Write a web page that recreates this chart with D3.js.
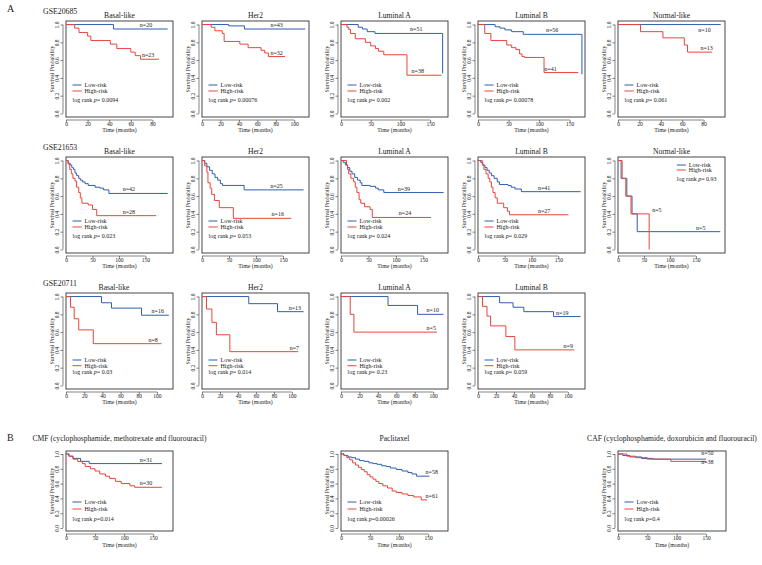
<!DOCTYPE html>
<html><head><meta charset="utf-8">
<script src="https://cdn.jsdelivr.net/npm/d3@7"></script>
<style>
body{margin:0;background:#fff}
svg{display:block}
text{font-family:"Liberation Serif","Times New Roman",serif;fill:#1a1a1a}
</style>
</head><body>
<svg id="chart" width="762" height="565"></svg>
<script>
// ---------------- DATA ----------------
const subtypes = ["Basal-like","Her2","Luminal A","Luminal B","Normal-like"];
const datasets = ["GSE20685","GSE21653","GSE20711"];
const regimens = ["CMF (cyclophosphamide, methotrexate and fluorouracil)","Paclitaxel","CAF (cyclophosphamide, doxorubicin and fluorouracil)"];
const groups = ["Low-risk","High-risk"];
const yTicks = [0,0.2,0.4,0.6,0.8,1.0];
const xTicks0to80 = [0,20,40,60,80];
const xTicks0to100 = [0,20,40,60,80,100];
const xTicks0to150 = [0,50,100,150];

// step curves: [time (months), survival after event]
const gse20685BasalLow  = [[0,1],[44,0.95],[94,0.95]];
const gse20685BasalHigh = [[0,1],[8,0.96],[12,0.91],[20,0.87],[23,0.82],[41,0.78],[47,0.73],[60,0.69],[64,0.65],[69,0.61],[86,0.61]];
const gse20685Her2Low   = [[0,1],[29,0.985],[46,0.95],[112,0.95]];
const gse20685Her2High  = [[0,1],[10,0.97],[14,0.93],[22,0.9],[24,0.81],[41,0.78],[50,0.74],[64,0.71],[68,0.68],[72,0.64],[90,0.64]];
const gse20685LumALow   = [[0,1],[29,0.97],[36,0.95],[44,0.92],[57,0.9],[171,0.45]];
const gse20685LumAHigh  = [[0,1],[10,0.97],[13,0.945],[16,0.9],[24,0.84],[41,0.8],[50,0.76],[58,0.73],[63,0.7],[72,0.66],[111,0.43],[169,0.43]];
const gse20685LumBLow   = [[0,1],[28,0.975],[36,0.96],[44,0.94],[55,0.92],[74,0.89],[170,0.44]];
const gse20685LumBHigh  = [[0,1],[11,0.9],[21,0.82],[47,0.77],[55,0.74],[62,0.72],[68,0.67],[72,0.64],[76,0.63],[108,0.46],[164,0.46]];
const gse20685NormLow   = [[0,1],[96,1]];
const gse20685NormHigh  = [[0,1],[21,0.92],[42,0.85],[62,0.77],[65,0.69],[88,0.69]];

const gse21653BasalLow  = [[0,1],[4,0.97],[8,0.95],[11,0.92],[14,0.9],[17,0.86],[20,0.83],[24,0.8],[27,0.78],[31,0.76],[36,0.74],[42,0.72],[55,0.7],[64,0.69],[71,0.67],[81,0.63],[192,0.63]];
const gse21653BasalHigh = [[0,1],[4,0.96],[7,0.9],[10,0.85],[13,0.8],[17,0.77],[20,0.7],[24,0.64],[27,0.58],[30,0.52],[42,0.5],[50,0.45],[58,0.38],[170,0.38]];
const gse21653Her2Low   = [[0,1],[5,0.97],[9,0.93],[14,0.89],[19,0.85],[24,0.81],[29,0.78],[34,0.74],[38,0.72],[78,0.67],[188,0.67]];
const gse21653Her2High  = [[0,1],[5,0.94],[9,0.87],[11,0.75],[15,0.69],[18,0.62],[23,0.55],[32,0.47],[58,0.35],[165,0.35]];
const gse21653LumALow   = [[0,1],[4,0.98],[8,0.95],[12,0.92],[16,0.88],[20,0.85],[25,0.81],[30,0.78],[35,0.75],[38,0.72],[53,0.71],[63,0.69],[68,0.67],[78,0.64],[187,0.64]];
const gse21653LumAHigh  = [[0,1],[10,0.95],[12,0.9],[14,0.85],[18,0.8],[23,0.76],[26,0.7],[29,0.64],[33,0.56],[36,0.52],[43,0.48],[53,0.45],[57,0.36],[164,0.36]];
const gse21653LumBLow   = [[0,1],[5,0.98],[9,0.95],[13,0.92],[17,0.89],[21,0.86],[25,0.83],[30,0.8],[36,0.76],[40,0.73],[56,0.72],[62,0.7],[69,0.68],[81,0.65],[192,0.65]];
const gse21653LumBHigh  = [[0,1],[8,0.95],[11,0.9],[15,0.85],[19,0.8],[22,0.76],[25,0.7],[28,0.64],[32,0.58],[36,0.52],[48,0.47],[55,0.43],[59,0.39],[169,0.39]];
const gse21653NormLow   = [[0,1],[6,0.8],[17,0.6],[27,0.4],[37,0.2],[197,0.2]];
const gse21653NormHigh  = [[0,1],[8,0.8],[15,0.6],[25,0.4],[60,0.0]];

const gse20711BasalLow  = [[0,1],[39,0.93],[50,0.87],[83,0.79],[113,0.79]];
const gse20711BasalHigh = [[0,1],[5,0.88],[9,0.75],[14,0.625],[30,0.47],[105,0.47]];
const gse20711Her2Low   = [[0,1],[52,0.92],[84,0.83],[113,0.83]];
const gse20711Her2High  = [[0,1],[5,0.86],[11,0.71],[16,0.57],[31,0.38],[107,0.38]];
const gse20711LumALow   = [[0,1],[51,0.9],[83,0.8],[111,0.8]];
const gse20711LumAHigh  = [[0,1],[10,0.8],[14,0.6],[104,0.6]];
const gse20711LumBLow   = [[0,1],[24,0.93],[39,0.88],[51,0.83],[84,0.775],[114,0.775]];
const gse20711LumBHigh  = [[0,1],[5,0.89],[10,0.78],[14,0.67],[31,0.55],[41,0.4],[107,0.4]];

const cmfLow   = [[0,1],[5,0.97],[12,0.94],[25,0.9],[40,0.87],[165,0.87]];
const cmfHigh  = [[0,1],[5,0.97],[12,0.93],[20,0.9],[28,0.87],[33,0.83],[42,0.8],[50,0.77],[58,0.73],[68,0.7],[75,0.67],[85,0.63],[95,0.6],[110,0.57],[118,0.55],[165,0.55]];
const pacLow   = [[0,1],[5,0.98],[12,0.96],[18,0.95],[25,0.93],[32,0.91],[40,0.9],[48,0.88],[55,0.87],[62,0.86],[70,0.84],[78,0.83],[85,0.81],[95,0.79],[105,0.77],[115,0.75],[122,0.73],[130,0.7],[152,0.7]];
const pacHigh  = [[0,1],[5,0.98],[10,0.95],[15,0.92],[20,0.88],[25,0.85],[30,0.82],[35,0.79],[40,0.76],[45,0.72],[50,0.69],[55,0.66],[60,0.63],[65,0.6],[72,0.57],[80,0.54],[88,0.5],[95,0.48],[105,0.46],[115,0.44],[125,0.42],[138,0.38],[148,0.38]];
const cafLow   = [[0,1],[8,0.98],[20,0.96],[40,0.94],[60,0.93],[150,0.93]];
const cafHigh  = [[0,1],[15,0.97],[30,0.95],[50,0.93],[90,0.9],[150,0.9]];

const gse20685N = [["n=20","n=23"],["n=43","n=32"],["n=51","n=38"],["n=56","n=41"],["n=10","n=13"]];
const gse21653N = [["n=42","n=28"],["n=25","n=16"],["n=39","n=24"],["n=41","n=27"],["n=5","n=5"]];
const gse20711N = [["n=16","n=8"],["n=13","n=7"],["n=10","n=5"],["n=19","n=9"]];
const treatN    = [["n=31","n=30"],["n=58","n=61"],["n=50","n=38"]];

const gse20685P = ["0.0094","0.00076","0.002","0.00078","0.061"];
const gse21653P = ["0.023","0.053","0.024","0.029","0.93"];
const gse20711P = ["0.03","0.014","0.23","0.059"];
const treatP    = ["0.014","0.00026","0.4"];

// ---------------- LAYOUT ----------------
const COL = {low:"#2f5fae", high:"#e8453c", frame:"#333"};
const frameLefts = [66, 202, 341, 478, 618];
const frameW = 107;
const rowTops = [21, 157, 293];
const rowH = 96;
const bTop = 451, bH = 80;
const bLefts = [66, 341, 618];
// x-domain (months) per panel
const dom = [[99,116,180,175,100],[202,198,195,200,206],[117.6,119,116,119]];
const bDom = [184,184,184];
// n-label positions: [frame fraction, level] for low & high
const labPos = [
 [[[0.69,0.95],[0.71,0.61]],[[0.64,0.95],[0.64,0.64]],[[0.645,0.9],[0.66,0.43]],[[0.635,0.89],[0.62,0.46]],[[0.75,0.89],[0.77,0.69]]],
 [[[0.53,0.63],[0.53,0.38]],[[0.64,0.67],[0.65,0.35]],[[0.53,0.64],[0.54,0.36]],[[0.56,0.65],[0.56,0.39]],[[0.73,0.2],[0.32,0.4]]],
 [[[0.8,0.79],[0.77,0.47]],[[0.81,0.83],[0.82,0.38]],[[0.8,0.8],[0.8,0.6]],[[0.73,0.775],[0.8,0.4]]]
];
const bLabPos = [[[0.69,0.87],[0.69,0.55]],[[0.79,0.7],[0.79,0.38]],[[0.77,0.955],[0.77,0.84]]];

const svg = d3.select("#chart");

function stepPoints(d){
  const pts=[[d[0][0],d[0][1]]];
  for(let i=1;i<d.length;i++){ pts.push([d[i][0], d[i-1][1]]); pts.push([d[i][0], d[i][1]]); }
  return pts;
}

function panel(o){
  const g = svg.append("g");
  const x = d3.scaleLinear().domain([0,o.domain]).range([o.left,o.left+o.w]);
  const y = d3.scaleLinear().domain([-0.04,1.04]).range([o.top+o.h,o.top]);
  // frame
  g.append("rect").attr("x",o.left).attr("y",o.top).attr("width",o.w).attr("height",o.h)
    .attr("fill","none").attr("stroke",COL.frame).attr("stroke-width",0.9);
  // y axis
  const ya = g.append("g").attr("transform",`translate(${o.left-3},0)`)
    .call(d3.axisLeft(y).tickValues(yTicks).tickSize(2.5).tickFormat(d3.format(".1f")));
  ya.select(".domain").remove();
  ya.append("line").attr("x1",0).attr("x2",0).attr("y1",y(0)).attr("y2",y(1)).attr("stroke",COL.frame).attr("stroke-width",0.6);
  ya.selectAll(".tick line").attr("stroke",COL.frame).attr("stroke-width",0.6);
  ya.selectAll(".tick text").attr("x",0).attr("dy",null).attr("text-anchor","middle")
    .attr("transform","translate(-3.6,0) rotate(-90)").attr("font-size",5.5).attr("fill","#1a1a1a")
    .style("font-family","Liberation Serif");
  g.append("text").attr("transform",`translate(${o.left-12},${o.top+o.h/2}) rotate(-90)`)
    .attr("text-anchor","middle").attr("font-size",5.8).text("Survival Probability");
  // x axis
  const xa = g.append("g").attr("transform",`translate(0,${o.top+o.h+3})`)
    .call(d3.axisBottom(x).tickValues(o.ticks).tickSize(2.5));
  xa.select(".domain").remove();
  xa.append("line").attr("x1",x(o.ticks[0])).attr("x2",x(o.ticks[o.ticks.length-1])).attr("y1",0).attr("y2",0)
    .attr("stroke",COL.frame).attr("stroke-width",0.6);
  xa.selectAll(".tick line").attr("stroke",COL.frame).attr("stroke-width",0.6);
  xa.selectAll(".tick text").attr("y",5.8).attr("dy",null).attr("font-size",5.5).attr("fill","#1a1a1a")
    .style("font-family","Liberation Serif");
  g.append("text").attr("x",o.left+o.w/2).attr("y",o.top+o.h+o.timeDy).attr("text-anchor","middle")
    .attr("font-size",5.8).text("Time (months)");
  // curves
  const line = d3.line().x(p=>x(p[0])).y(p=>y(p[1]));
  [["low",o.low],["high",o.high]].forEach(([k,d])=>{
    g.append("path").attr("d",line(stepPoints(d))).attr("fill","none").attr("stroke",COL[k]).attr("stroke-width",1);
  });
  // n labels
  [0,1].forEach(i=>{
    g.append("text").attr("x",o.left+o.lab[i][0]*o.w).attr("y",y(o.lab[i][1])-2)
      .attr("font-size",6).text(o.n[i]);
  });
  // title
  g.append("text").attr("x",o.titleX!==undefined?o.titleX:o.left+o.w/2).attr("y",o.top-o.titleDy)
    .attr("text-anchor","middle").attr("font-size",7.6).text(o.title);
  // legend
  const L = o.legend;
  [0,1].forEach(i=>{
    const yy = L.y + i*L.step;
    g.append("line").attr("x1",L.x).attr("x2",L.x+9).attr("y1",yy).attr("y2",yy)
      .attr("stroke",i===0?COL.low:COL.high).attr("stroke-width",1);
    g.append("text").attr("x",L.x+12).attr("y",yy+2).attr("font-size",6).text(groups[i]);
  });
  const pt = g.append("text").attr("x",L.x).attr("y",L.y+L.pdy+2).attr("font-size",6);
  pt.append("tspan").text("log rank ");
  pt.append("tspan").attr("font-style","italic").text("p");
  pt.append("tspan").text(o.pSep+o.p);
}

const curvesA = [
 [[gse20685BasalLow,gse20685BasalHigh],[gse20685Her2Low,gse20685Her2High],[gse20685LumALow,gse20685LumAHigh],[gse20685LumBLow,gse20685LumBHigh],[gse20685NormLow,gse20685NormHigh]],
 [[gse21653BasalLow,gse21653BasalHigh],[gse21653Her2Low,gse21653Her2High],[gse21653LumALow,gse21653LumAHigh],[gse21653LumBLow,gse21653LumBHigh],[gse21653NormLow,gse21653NormHigh]],
 [[gse20711BasalLow,gse20711BasalHigh],[gse20711Her2Low,gse20711Her2High],[gse20711LumALow,gse20711LumAHigh],[gse20711LumBLow,gse20711LumBHigh]]
];
const nA = [gse20685N,gse21653N,gse20711N];
const pA = [gse20685P,gse21653P,gse20711P];
const ticksA = [
 [xTicks0to80,xTicks0to100,xTicks0to150,xTicks0to150,xTicks0to80],
 [xTicks0to150,xTicks0to150,xTicks0to150,xTicks0to150,xTicks0to150],
 [xTicks0to100,xTicks0to100,xTicks0to100,xTicks0to100]
];

curvesA.forEach((row,r)=>{
  const top = rowTops[r];
  svg.append("text").attr("x",43).attr("y",top-7.5).attr("font-size",7.8).text(datasets[r]);
  row.forEach((c,i)=>{
    const left = frameLefts[i];
    const topRight = (r===1 && i===4);
    const legend = topRight ? {x:left+0.55*frameW, y:top+8, step:5, pdy:14}
                            : {x:left+6.5, y:top+(r===2?67:64), step:(r===2?5.7:6), pdy:(r===2?12.3:15)};
    panel({left, top, w:frameW, h:rowH, domain:dom[r][i], ticks:ticksA[r][i],
      low:c[0], high:c[1], n:nA[r][i], lab:labPos[r][i], p:pA[r][i], pSep:"= ",
      title:subtypes[i], titleDy:3.5, titleX:(r===2&&i===0)?114:undefined, legend, timeDy:15});
  });
});

svg.append("text").attr("x",7).attr("y",12).attr("font-size",10).text("A");
svg.append("text").attr("x",7).attr("y",441).attr("font-size",10).text("B");

const curvesB = [[cmfLow,cmfHigh],[pacLow,pacHigh],[cafLow,cafHigh]];
curvesB.forEach((c,i)=>{
  const left = bLefts[i];
  panel({left, top:bTop, w:frameW+(i===2?1:0), h:bH, domain:bDom[i], ticks:xTicks0to150,
    low:c[0], high:c[1], n:treatN[i], lab:bLabPos[i], p:treatP[i], pSep:"=",
    title:regimens[i], titleDy:10, legend:{x:left+6.5, y:bTop+51, step:7, pdy:17}, timeDy:16});
});
</script>
</body></html>
